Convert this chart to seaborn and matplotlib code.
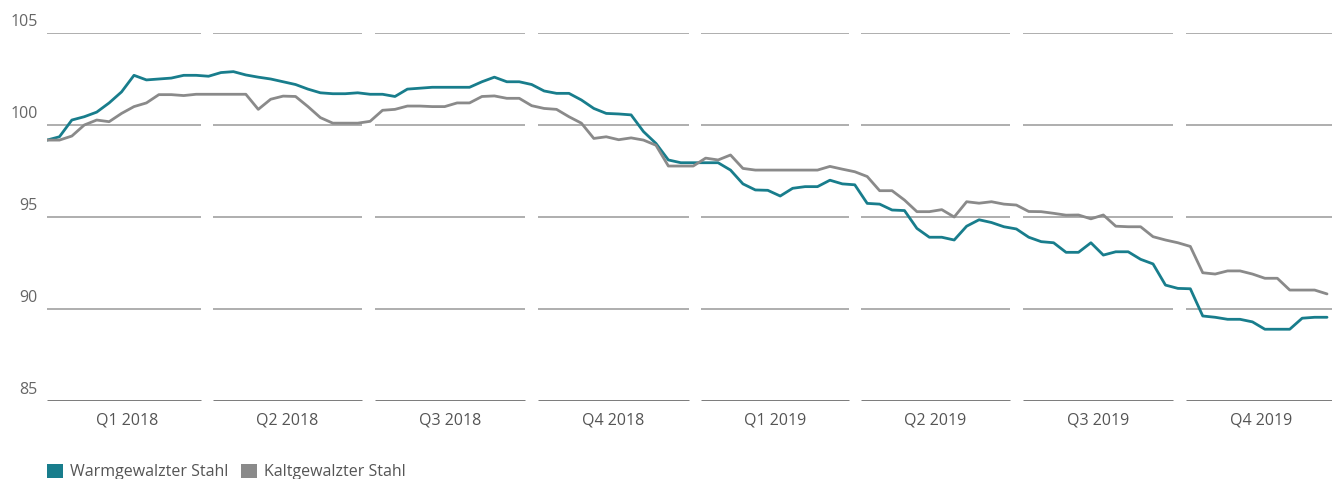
import pandas as pd
import numpy as np
import matplotlib
matplotlib.use("Agg")
import matplotlib.pyplot as plt
from matplotlib.patches import Patch
import seaborn as sns

sns.set_style("white")
plt.rcParams["font.family"] = ["Open Sans", "DejaVu Sans"]

# weekly index values
dates = pd.date_range("2018-01-01", periods=104, freq="7D")

warm = [99.18, 99.36, 100.27, 100.45, 100.7, 101.2, 101.8, 102.7, 102.45, 102.5,
        102.55, 102.7, 102.7, 102.65, 102.85, 102.9, 102.72, 102.6, 102.5, 102.35,
        102.2, 101.95, 101.75, 101.7, 101.7, 101.75, 101.67, 101.67, 101.55, 101.95,
        102.0, 102.05, 102.05, 102.05, 102.05, 102.35, 102.6, 102.35, 102.35, 102.2,
        101.85, 101.72, 101.72, 101.36, 100.9, 100.63, 100.6, 100.55, 99.64, 99.0,
        98.1, 97.95, 97.95, 97.95, 97.95, 97.55, 96.8, 96.47, 96.45, 96.14,
        96.56, 96.65, 96.65, 97.0, 96.8, 96.75, 95.74, 95.7, 95.38, 95.35,
        94.38, 93.9, 93.9, 93.75, 94.5, 94.85, 94.7, 94.47, 94.35, 93.9,
        93.66, 93.6, 93.08, 93.08, 93.6, 92.93, 93.11, 93.11, 92.7, 92.45,
        91.3, 91.12, 91.1, 89.62, 89.55, 89.44, 89.44, 89.3, 88.9, 88.9,
        88.9, 89.5, 89.55, 89.55]

kalt = [99.18, 99.18, 99.4, 100.0, 100.27, 100.18, 100.63, 101.0, 101.2, 101.65,
        101.65, 101.6, 101.67, 101.67, 101.67, 101.67, 101.67, 100.85, 101.4, 101.57,
        101.55, 101.0, 100.4, 100.1, 100.1, 100.1, 100.2, 100.8, 100.85, 101.03,
        101.03, 101.0, 101.0, 101.2, 101.2, 101.55, 101.58, 101.45, 101.45, 101.05,
        100.9, 100.85, 100.45, 100.1, 99.27, 99.36, 99.2, 99.3, 99.18, 98.9,
        97.77, 97.77, 97.77, 98.2, 98.1, 98.37, 97.64, 97.55, 97.55, 97.55,
        97.55, 97.55, 97.55, 97.75, 97.6, 97.46, 97.2, 96.43, 96.43, 95.92,
        95.29, 95.29, 95.4, 95.0, 95.83, 95.75, 95.83, 95.7, 95.65, 95.3,
        95.29, 95.2, 95.1, 95.11, 94.9, 95.11, 94.5, 94.47, 94.47, 93.93,
        93.75, 93.6, 93.4, 91.97, 91.9, 92.07, 92.07, 91.9, 91.67, 91.67,
        91.03, 91.03, 91.03, 90.82]

series_names = ["Warmgewalzter Stahl", "Kaltgewalzter Stahl"]
colors = ["#187d8c", "#8a8a8a"]
y_ticks = [85, 90, 95, 100, 105]
quarter_labels = ["Q1 2018", "Q2 2018", "Q3 2018", "Q4 2018",
                  "Q1 2019", "Q2 2019", "Q3 2019", "Q4 2019"]

df = pd.DataFrame({
    "Datum": np.concatenate([dates, dates]),
    "Wert": warm + kalt,
    "Reihe": [series_names[0]] * len(warm) + [series_names[1]] * len(kalt),
})

W, H = 1332, 479
fig = plt.figure(figsize=(W / 100, H / 100), dpi=100)
ax = fig.add_axes([47 / W, (H - 401) / H, 1296 / W, 368 / H])

q_starts = pd.date_range("2018-01-01", periods=9, freq="QS")
gap = pd.Timedelta(days=3.5)

# gridlines split into one segment per quarter
for v in y_ticks:
    for i in range(8):
        x0 = q_starts[i] + (gap if i > 0 else pd.Timedelta(0))
        x1 = q_starts[i + 1] - gap
        if v == 85:
            ax.hlines(v, x0, x1, color="#6f6f6f", lw=2.0, zorder=1)
        else:
            ax.hlines(v, x0, x1, color="#a8a8a8", lw=1.3, zorder=1)

sns.lineplot(data=df, x="Datum", y="Wert", hue="Reihe", palette=colors,
             hue_order=series_names, linewidth=2.0, legend=False, ax=ax, zorder=3)

ax.set_xlim(q_starts[0], q_starts[-1])
ax.set_ylim(85, 105)
for s in ax.spines.values():
    s.set_visible(False)
ax.set_xlabel("")
ax.set_ylabel("")
ax.set_yticks([])

mids = [q_starts[i] + (q_starts[i + 1] - q_starts[i]) / 2 for i in range(8)]
ax.set_xticks(mids)
ax.set_xticklabels(quarter_labels, fontsize=11.5, color="#555555")
ax.tick_params(axis="x", length=0, pad=8)

for v in y_ticks:
    ax.annotate(str(v), xy=(0, v), xycoords=("axes fraction", "data"),
                xytext=(-6.5, 5), textcoords="offset points",
                ha="right", va="baseline", fontsize=11.5, color="#666666")

handles = [Patch(facecolor=c, edgecolor="none") for c in colors]
fig.legend(handles, series_names, loc="center left",
           bbox_to_anchor=(47 / W, 1 - 472 / H), ncol=2, frameon=False,
           fontsize=11.5, handlelength=1.0, handleheight=1.0, handletextpad=0.45,
           columnspacing=0.8, borderpad=0, borderaxespad=0, labelcolor="#555555")

fig.savefig("out.png", dpi=100)
